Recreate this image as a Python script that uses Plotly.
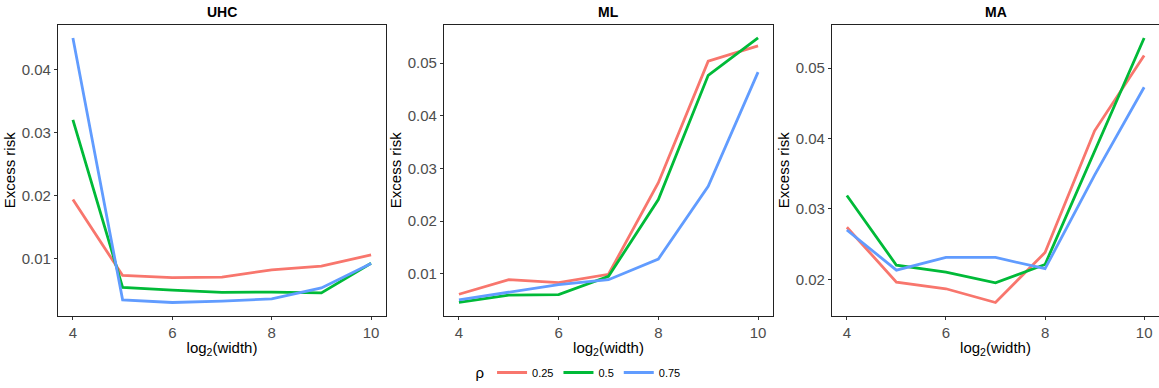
import plotly.graph_objects as go

widths = [4, 5, 6, 7, 8, 9, 10]
rho_labels = ["0.25", "0.5", "0.75"]
panels = ["UHC", "ML", "MA"]

uhc_025 = [0.0194, 0.00733, 0.0070, 0.00708, 0.00823, 0.0088, 0.0106]
uhc_05 = [0.0320, 0.00545, 0.0050, 0.00466, 0.0047, 0.00456, 0.00928]
uhc_075 = [0.0450, 0.00347, 0.00305, 0.00325, 0.00362, 0.00535, 0.00922]

ml_025 = [0.0061, 0.00887, 0.0083, 0.0099, 0.0273, 0.0504, 0.0533]
ml_05 = [0.00454, 0.00593, 0.00605, 0.0095, 0.0241, 0.0477, 0.0548]
ml_075 = [0.00505, 0.00642, 0.00793, 0.00887, 0.0128, 0.0266, 0.0483]

ma_025 = [0.0274, 0.0196, 0.01865, 0.0167, 0.0238, 0.0411, 0.0518]
ma_05 = [0.0319, 0.0220, 0.0210, 0.0195, 0.0221, 0.0383, 0.0543]
ma_075 = [0.0270, 0.0213, 0.0231, 0.0231, 0.0215, 0.0348, 0.0473]

data = [[uhc_025, uhc_05, uhc_075], [ml_025, ml_05, ml_075], [ma_025, ma_05, ma_075]]
colors = ["#F8766D", "#00BA38", "#619CFF"]

W, H = 1159, 388
x_domains = [[58 / W, 386 / W], [444 / W, 773 / W], [832 / W, 1.0]]
y_domain = [(H - 319) / H, (H - 25) / H]

fig = go.Figure()
FONT = "Liberation Sans, Arial, sans-serif"

for p, (name, series) in enumerate(zip(panels, data)):
    sfx = "" if p == 0 else str(p + 1)
    for k, vals in enumerate(series):
        fig.add_trace(go.Scatter(
            x=widths, y=vals, mode="lines",
            line=dict(color=colors[k], width=2.8),
            name=rho_labels[k], legendgroup=rho_labels[k],
            showlegend=(p == 0),
            xaxis="x" + sfx, yaxis="y" + sfx,
        ))
    allv = [v for s in series for v in s]
    lo, hi = min(allv), max(allv)
    pad = 0.05 * (hi - lo)
    axis_common = dict(
        showline=True, mirror=True, linecolor="#222222", linewidth=1.2,
        showgrid=False, zeroline=False, ticks="outside", ticklen=3,
        tickcolor="#333333", tickwidth=1,
        tickfont=dict(family=FONT, size=15, color="#4D4D4D"),
    )
    fig.update_layout(**{
        "xaxis" + sfx: dict(
            domain=x_domains[p], anchor="y" + sfx,
            range=[3.7, 10.3], tickvals=[4, 6, 8, 10],
            title=dict(text="log<sub>2</sub>(width)", standoff=2,
                       font=dict(family=FONT, size=15, color="black")),
            **axis_common),
        "yaxis" + sfx: dict(
            domain=y_domain, anchor="x" + sfx,
            range=[lo - pad, hi + pad], dtick=0.01, tickformat=".2f",
            title=dict(text="Excess risk", standoff=2,
                       font=dict(family=FONT, size=15, color="black")),
            **axis_common),
    })
    fig.add_annotation(
        text="<b>%s</b>" % name, xref="paper", yref="paper",
        x=sum(x_domains[p]) / 2, y=1 - 12 / H, showarrow=False,
        xanchor="center", yanchor="middle",
        font=dict(family=FONT, size=14, color="black"),
    )

fig.update_layout(
    width=W, height=H,
    margin=dict(l=0, r=0, t=0, b=0),
    paper_bgcolor="white", plot_bgcolor="white",
    showlegend=True,
    legend=dict(
        orientation="h", x=0.5, xanchor="center", y=1 - 377 / H,
        yanchor="middle", itemwidth=30,
        title=dict(text="ρ", font=dict(family=FONT, size=15, color="black")),
        font=dict(family=FONT, size=11, color="black"),
        tracegroupgap=0,
    ),
)

fig.write_html("out.html")
